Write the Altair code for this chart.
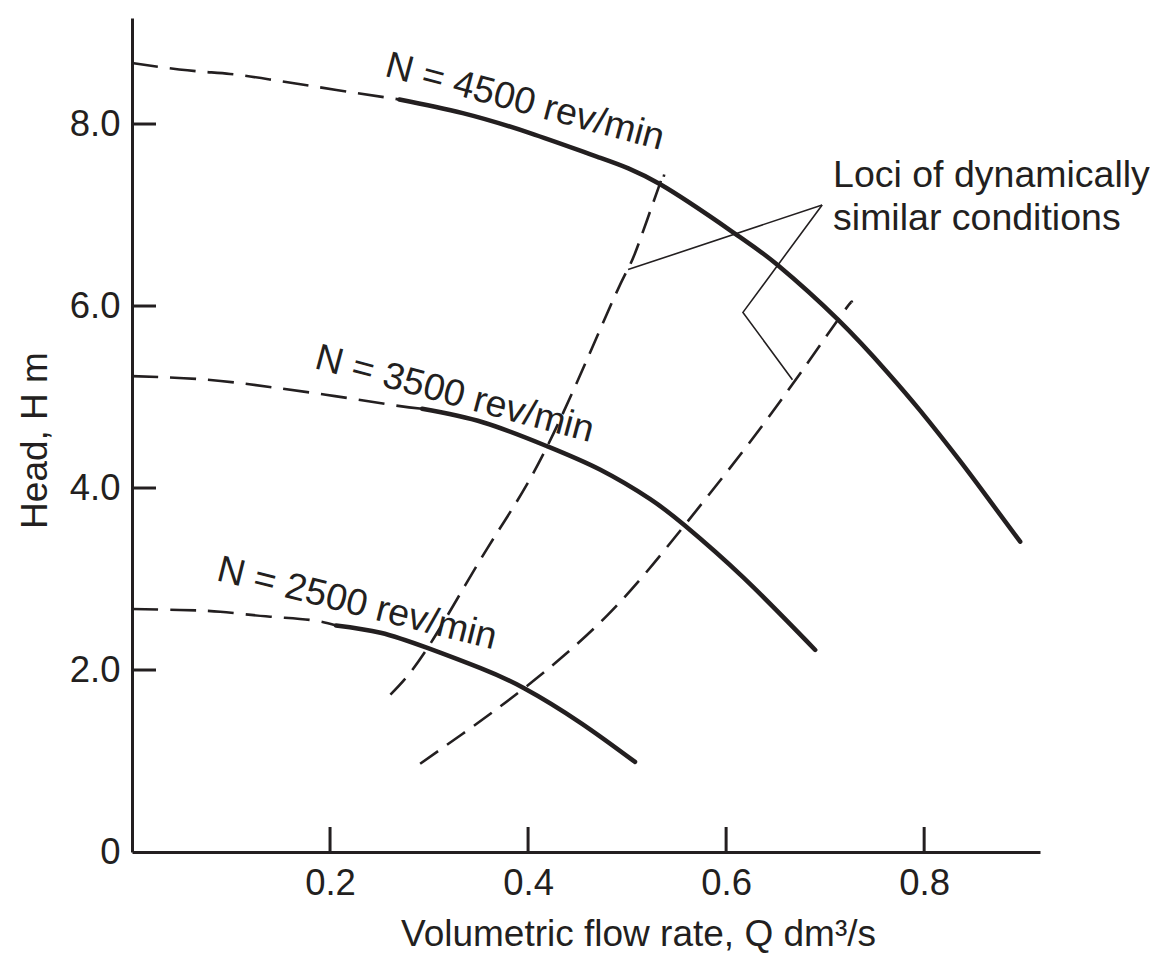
import altair as alt
import pandas as pd

FONT = "Liberation Sans"
INK = "#231f20"

# ---------------- values (Q in dm^3/s, H in m) ----------------
# N = 4500 rev/min
q_4500_dashed = [0.000, 0.056, 0.099, 0.139, 0.180, 0.227, 0.270]
h_4500_dashed = [8.67, 8.59, 8.55, 8.49, 8.42, 8.34, 8.27]
q_4500 = [0.270, 0.334, 0.402, 0.470, 0.533, 0.611, 0.652, 0.713, 0.763, 0.796, 0.836, 0.867, 0.897]
h_4500 = [8.27, 8.12, 7.90, 7.64, 7.34, 6.78, 6.45, 5.85, 5.27, 4.85, 4.30, 3.85, 3.41]

# N = 3500 rev/min
q_3500_dashed = [0.000, 0.076, 0.139, 0.205, 0.264, 0.293]
h_3500_dashed = [5.23, 5.19, 5.11, 5.01, 4.91, 4.87]
q_3500 = [0.293, 0.355, 0.419, 0.473, 0.523, 0.558, 0.617, 0.690]
h_3500 = [4.87, 4.72, 4.46, 4.20, 3.88, 3.59, 3.02, 2.22]

# N = 2500 rev/min
q_2500_dashed = [0.000, 0.048, 0.089, 0.135, 0.180, 0.206]
h_2500_dashed = [2.67, 2.66, 2.64, 2.59, 2.55, 2.49]
q_2500 = [0.206, 0.251, 0.299, 0.352, 0.396, 0.453, 0.508]
h_2500 = [2.49, 2.41, 2.24, 2.02, 1.80, 1.42, 0.99]

# Loci of dynamically similar conditions
q_locus_a = [0.261, 0.299, 0.359, 0.419, 0.486, 0.508, 0.533, 0.537]
h_locus_a = [1.73, 2.25, 3.34, 4.45, 6.07, 6.58, 7.34, 7.42]
q_locus_b = [0.291, 0.334, 0.396, 0.480, 0.558, 0.641, 0.713, 0.727]
h_locus_b = [0.97, 1.30, 1.80, 2.60, 3.59, 4.75, 5.85, 6.04]

# Leader lines from the annotation to the loci
q_leader_a = [0.501, 0.697]
h_leader_a = [6.40, 7.11]
q_leader_b = [0.697, 0.617, 0.667]
h_leader_b = [7.11, 5.93, 5.19]

# Axes
x_ticks = [0.2, 0.4, 0.6, 0.8]
y_ticks = [0, 2, 4, 6, 8]
y_inner_ticks = [2, 4, 6, 8]
x_title = "Volumetric flow rate, Q dm\u00b3/s"
y_title = "Head, H m"
curve_labels = ["N = 4500 rev/min", "N = 3500 rev/min", "N = 2500 rev/min"]
note_lines = ["Loci of dynamically", "similar conditions"]


def table(segments):
    rows = []
    for name, qs, hs in segments:
        for i, (q, h) in enumerate(zip(qs, hs)):
            rows.append({"seg": name, "i": i, "q": q, "h": h})
    return pd.DataFrame(rows)


solid_df = table([("4500", q_4500, h_4500), ("3500", q_3500, h_3500), ("2500", q_2500, h_2500)])
dashed_df = table([("4500", q_4500_dashed, h_4500_dashed), ("3500", q_3500_dashed, h_3500_dashed),
                   ("2500", q_2500_dashed, h_2500_dashed)])
loci_df = table([("a", q_locus_a, h_locus_a), ("b", q_locus_b, h_locus_b)])
leader_df = table([("a", q_leader_a, h_leader_a), ("b", q_leader_b, h_leader_b)])

W, H = 908, 834
xs = alt.Scale(domain=[0, 0.917], nice=False, zero=False)
ys = alt.Scale(domain=[0, 9.165], nice=False)

LABEL_SIZE = 36.5
TITLE_SIZE = 37
NOTE_SIZE = 37.5

x_axis = alt.Axis(values=x_ticks, format=".1f", ticks=False, tickSize=0, grid=False,
                  domain=True, domainColor=INK, domainWidth=3,
                  labelFont=FONT, labelFontSize=LABEL_SIZE, labelColor=INK, labelPadding=13,
                  title=x_title, titleFont=FONT, titleFontSize=TITLE_SIZE, titleFontWeight="normal",
                  titleColor=INK, titleX=506, titleY=93, titleAlign="center",
                  titleBaseline="alphabetic")
y_axis = alt.Axis(values=y_ticks, ticks=False, tickSize=0, grid=False,
                  labelExpr="datum.value == 0 ? '0' : format(datum.value, '.1f')",
                  domain=True, domainColor=INK, domainWidth=3,
                  labelFont=FONT, labelFontSize=LABEL_SIZE, labelColor=INK, labelPadding=12,
                  title=y_title, titleFont=FONT, titleFontSize=TITLE_SIZE, titleFontWeight="normal",
                  titleColor=INK, titleX=-86, titleY=422, titleAngle=-90, titleAlign="center",
                  titleBaseline="alphabetic")

X = alt.X("q:Q", scale=xs, axis=x_axis)
Y = alt.Y("h:Q", scale=ys, axis=y_axis)

solid = alt.Chart(solid_df).mark_line(color=INK, strokeWidth=4.5, interpolate="natural",
                                      strokeCap="round").encode(
    x=X, y=Y, detail="seg:N", order="i:Q")
dashed = alt.Chart(dashed_df).mark_line(color=INK, strokeWidth=2.6, interpolate="natural",
                                        strokeDash=[26, 12]).encode(
    x="q:Q", y="h:Q", detail="seg:N", order="i:Q")
loci = alt.Chart(loci_df).mark_line(color=INK, strokeWidth=2.6, interpolate="natural",
                                    strokeDash=[22, 11]).encode(
    x="q:Q", y="h:Q", detail="seg:N", order="i:Q")
leader = alt.Chart(leader_df).mark_line(color=INK, strokeWidth=1.6).encode(
    x="q:Q", y="h:Q", detail="seg:N", order="i:Q")

ytick_df = pd.DataFrame({"v": y_inner_ticks})
xtick_df = pd.DataFrame({"v": x_ticks})
yticks = alt.Chart(ytick_df).mark_rule(color=INK, strokeWidth=3).encode(
    y="v:Q", x=alt.value(0), x2=alt.value(24))
xticks = alt.Chart(xtick_df).mark_rule(color=INK, strokeWidth=3).encode(
    x="v:Q", y=alt.value(H), y2=alt.value(H - 25))


def label(text, q, h, angle):
    return alt.Chart(pd.DataFrame({"t": [text]})).mark_text(
        angle=angle, align="left", baseline="alphabetic", font=FONT, fontSize=NOTE_SIZE, color=INK
    ).encode(x=alt.datum(q), y=alt.datum(h), text="t:N")


labels = [
    label(curve_labels[0], 0.254, 8.53, 15),
    label(curve_labels[1], 0.183, 5.32, 15),
    label(curve_labels[2], 0.084, 2.99, 14),
    label(note_lines[0], 0.708, 7.31, 0),
    label(note_lines[1], 0.708, 6.84, 0),
]

chart = alt.layer(solid, dashed, loci, leader, yticks, xticks, *labels).properties(
    width=W, height=H,
    autosize=alt.AutoSizeParams(type="none"),
    padding={"left": 124, "top": 10, "right": 110, "bottom": 102},
    background="white",
).configure_view(stroke=None)

chart.save("out.html", embed_options={"renderer": "svg", "actions": False})
